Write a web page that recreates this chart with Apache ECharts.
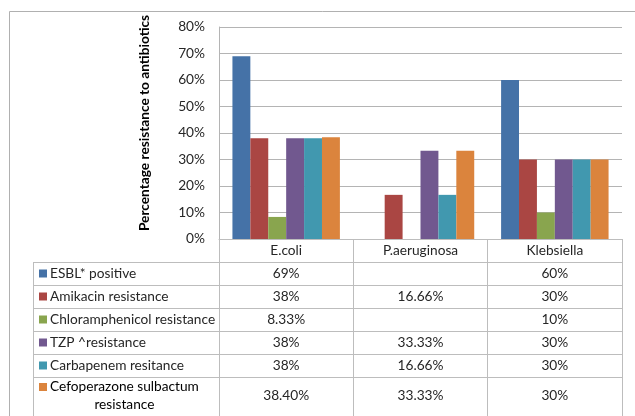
<!DOCTYPE html>
<html>
<head>
<meta charset="utf-8">
<script src="https://cdn.jsdelivr.net/npm/echarts@6/dist/echarts.min.js"></script>
<style>
  html, body { margin: 0; padding: 0; background: #ffffff; }
  #chart { width: 635px; height: 416px; }
</style>
</head>
<body>
<div id="chart"></div>
<script>
// Organisms (columns of the chart and of the data table)
const organisms = ['E.coli', 'P.aeruginosa', 'Klebsiella'];

// Resistance measures (one series each, one table row each)
const measureNames = [
  'ESBL* positive',
  'Amikacin resistance',
  'Chloramphenicol resistance',
  'TZP ^resistance',
  'Carbapenem resitance',
  'Cefoperazone sulbactum resistance'
];

// Percentages per organism (null = not reported)
const esblPositive    = [69, null, 60];
const amikacin        = [38, 16.66, 30];
const chloramphenicol = [8.33, null, 10];
const tzp             = [38, 33.33, 30];
const carbapenem      = [38, 16.66, 30];
const cefoperazone    = [38.4, 33.33, 30];

// Cell text of the data table, as printed
const esblCells            = ['69%', '', '60%'];
const amikacinCells        = ['38%', '16.66%', '30%'];
const chloramphenicolCells = ['8.33%', '', '10%'];
const tzpCells             = ['38%', '33.33%', '30%'];
const carbapenemCells      = ['38%', '16.66%', '30%'];
const cefoperazoneCells    = ['38.40%', '33.33%', '30%'];

const seriesValues = [esblPositive, amikacin, chloramphenicol, tzp, carbapenem, cefoperazone];
const tableCells = [esblCells, amikacinCells, chloramphenicolCells, tzpCells, carbapenemCells, cefoperazoneCells];
const palette = ['#4572A7', '#AA4643', '#89A54E', '#71588F', '#4198AF', '#DB843D'];

// ---- layout ----
const W = 635, H = 416;
const FONT = 'Lato, "Open Sans", sans-serif';
const FONT_SIZE = 13.7;
const TEXT = '#262626';
const GRID_LINE = '#b4b4b4';
const TABLE_LINE = '#bdbdbd';
const PLOT_LEFT = 219, PLOT_RIGHT = 622, PLOT_TOP = 27, PLOT_BOTTOM = 239;
const ROW_H = 23;
const LAST_ROW_H = 40;
const TABLE_LEFT = 33.5;

// Axis 0: the category axis, whose labels form the header row of the table.
const xAxes = [{
  type: 'category',
  data: organisms,
  position: 'bottom',
  offset: 0,
  axisLine: { show: true, lineStyle: { color: TABLE_LINE, width: 1 } },
  axisTick: { show: true, interval: 0, length: ROW_H, lineStyle: { color: TABLE_LINE } },
  axisLabel: { margin: 5, color: TEXT, fontFamily: FONT, fontSize: FONT_SIZE, interval: 0 },
  splitLine: { show: false }
}];

// One extra axis per table row; its labels are the row's cells.
tableCells.forEach(function (cells, i) {
  const last = i === tableCells.length - 1;
  xAxes.push({
    type: 'category',
    data: organisms,
    position: 'bottom',
    offset: ROW_H * (i + 1),
    axisLine: { show: true, lineStyle: { color: TABLE_LINE, width: 1 } },
    axisTick: { show: true, interval: 0, length: last ? LAST_ROW_H : ROW_H, lineStyle: { color: TABLE_LINE } },
    axisLabel: {
      margin: last ? 12 : 5,
      color: TEXT, fontFamily: FONT, fontSize: FONT_SIZE, interval: 0,
      formatter: function (value, idx) { return cells[idx]; }
    },
    splitLine: { show: false }
  });
});

// Left column of the table: rules, colour keys and row labels.
const graphics = [{
  type: 'rect', silent: true, z: -10,
  shape: { x: 9.5, y: 11.5, width: W + 20, height: H + 20 },
  style: { fill: null, stroke: '#b0b0b0', lineWidth: 1 }
}, {
  type: 'line', silent: true,
  shape: { x1: TABLE_LEFT, y1: PLOT_BOTTOM + ROW_H, x2: TABLE_LEFT, y2: H + 5 },
  style: { stroke: TABLE_LINE, lineWidth: 1 }
}];

measureNames.forEach(function (name, i) {
  const rowTop = PLOT_BOTTOM + ROW_H * (i + 1);
  const last = i === measureNames.length - 1;
  const firstLineY = rowTop + (last ? 10 : ROW_H / 2);
  graphics.push({
    type: 'line', silent: true,
    shape: { x1: TABLE_LEFT, y1: rowTop + 0.5, x2: PLOT_LEFT, y2: rowTop + 0.5 },
    style: { stroke: TABLE_LINE, lineWidth: 1 }
  });
  graphics.push({
    type: 'rect', silent: true,
    shape: { x: 39, y: firstLineY - 4, width: 8, height: 8 },
    style: { fill: palette[i] }
  });
  if (last) {
    const words = name.split(' ');
    const line1 = words.slice(0, 2).join(' ');
    const line2 = words.slice(2).join(' ');
    graphics.push({
      type: 'text', silent: true,
      x: 50, y: firstLineY - 9,
      style: {
        text: '{a|' + line1 + '}\n{b|' + line2 + '}',
        align: 'left', verticalAlign: 'top', textAlign: 'left', textVerticalAlign: 'top',
        rich: {
          a: { fontFamily: FONT, fontSize: FONT_SIZE, color: TEXT, lineHeight: 18, align: 'left' },
          b: { fontFamily: FONT, fontSize: FONT_SIZE, color: TEXT, lineHeight: 18, align: 'center' }
        }
      }
    });
  } else {
    graphics.push({
      type: 'text', silent: true,
      x: 50, y: firstLineY,
      style: {
        text: name, fill: TEXT,
        font: FONT_SIZE + 'px ' + FONT,
        align: 'left', verticalAlign: 'middle', textAlign: 'left', textVerticalAlign: 'middle'
      }
    });
  }
});

const chart = echarts.init(document.getElementById('chart'), null, { renderer: 'canvas' });
chart.setOption({
  animation: false,
  backgroundColor: '#ffffff',
  textStyle: { fontFamily: FONT },
  grid: {
    left: PLOT_LEFT, right: W - PLOT_RIGHT, top: PLOT_TOP, bottom: H - PLOT_BOTTOM,
    containLabel: false, outerBoundsMode: 'none'
  },
  xAxis: xAxes,
  yAxis: {
    type: 'value',
    min: 0, max: 80, interval: 10,
    name: 'Percentage resistance to antibiotics',
    nameLocation: 'middle',
    nameGap: 67,
    nameRotate: 90,
    nameMoveOverlap: false,
    nameTextStyle: {
      fontFamily: FONT, fontSize: FONT_SIZE, fontWeight: 'bold', color: '#000000',
      padding: [0, 0, 0, 20]
    },
    axisLine: { show: true, lineStyle: { color: GRID_LINE, width: 1 } },
    axisTick: { show: false },
    axisLabel: { margin: 14, color: TEXT, fontFamily: FONT, fontSize: FONT_SIZE, formatter: '{value}%' },
    splitLine: { show: true, lineStyle: { color: GRID_LINE, width: 1 } }
  },
  series: measureNames.map(function (name, i) {
    return {
      name: name,
      type: 'bar',
      xAxisIndex: 0,
      data: seriesValues[i],
      barGap: '0%',
      barCategoryGap: '20%',
      itemStyle: { color: palette[i] },
      emphasis: { disabled: true }
    };
  }),
  graphic: { elements: graphics }
});
</script>
</body>
</html>
